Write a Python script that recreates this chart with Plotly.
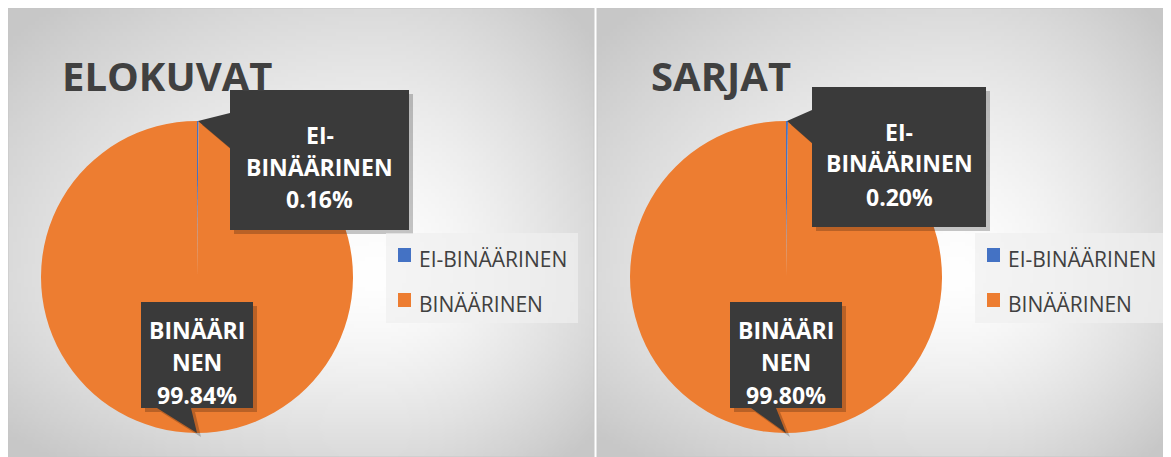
import base64, struct, zlib
import numpy as np
import plotly.graph_objects as go

# ---------------- data ----------------
labels = ["EI-BINÄÄRINEN", "BINÄÄRINEN"]
elokuvat_pct = [0.16, 99.84]
sarjat_pct = [0.20, 99.80]
titles = ["ELOKUVAT", "SARJAT"]
colors = ["#4472C4", "#ED7D31"]

# ---------------- layout constants (window pixels) ----------------
WIN_W, WIN_H = 1171, 457
OFF = 8                      # page body margin
W, H = WIN_W - OFF, WIN_H - OFF
FONT = "Open Sans"
TXT = "#404040"
BOX = "#3a3a3a"


def px(x):
    return (x - OFF) / W


def py(y):
    return 1 - (y - OFF) / H


panels = [
    dict(x0=8, x1=594, cx=197, title_x=60, values=elokuvat_pct, title=titles[0],
         b1=(230, 409, 90, 230), b1_lines=(135, 167, 199), b1_base=(113, 148),
         b2=(141, 253, 302, 408), b2_base=(157, 191),
         leg=(386, 578, 233, 323)),
    dict(x0=597, x1=1171, cx=786, title_x=649, values=sarjat_pct, title=titles[1],
         b1=(812, 986, 87, 227), b1_lines=(132, 163, 197), b1_base=(110, 143),
         b2=(730, 842, 302, 408), b2_base=(751, 776),
         leg=(975, 1167, 233, 323)),
]
PIE_CY, PIE_R = 277, 156
PANEL_TOP = 8


def gradient_uri(w, h, cx, cy):
    u = (np.arange(w) + 0.5) / w
    v = (np.arange(h) + 0.5) / h
    U, V = np.meshgrid(u, v)
    dx = U - cx
    dy = V - cy
    sx = np.where(dx > 0, 1 - cx, cx)
    sy = np.where(dy > 0, 1 - cy, cy)
    d = np.sqrt((dx / sx) ** 2 + (dy / sy) ** 2)
    val = 255 - 56 * (np.clip(d, 0, 1.35) / 1.35) ** 1.45
    img = np.clip(val, 0, 255).astype(np.uint8)
    raw = b"".join(b"\x00" + bytes(np.repeat(row[:, None], 3, axis=1).flatten()) for row in img)

    def chunk(tag, data):
        c = struct.pack(">I", len(data)) + tag + data
        return c + struct.pack(">I", zlib.crc32(tag + data) & 0xFFFFFFFF)

    png = b"\x89PNG\r\n\x1a\n" + chunk(b"IHDR", struct.pack(">IIBBBBB", w, h, 8, 2, 0, 0, 0))
    png += chunk(b"IDAT", zlib.compress(raw, 9)) + chunk(b"IEND", b"")
    return "data:image/png;base64," + base64.b64encode(png).decode()


bg = gradient_uri(160, 120, 0.63, 0.6)

fig = go.Figure()
shapes, annotations, images = [], [], []

for i, p in enumerate(panels):
    vals = p["values"]
    # background
    images.append(dict(source=bg, xref="paper", yref="paper", x=px(p["x0"]), y=py(PANEL_TOP),
                       sizex=(p["x1"] - p["x0"]) / W, sizey=(WIN_H - PANEL_TOP) / H,
                       xanchor="left", yanchor="top", sizing="stretch", layer="below"))
    shapes.append(dict(type="rect", xref="paper", yref="paper", x0=px(p["x0"]), x1=px(p["x1"]),
                       y0=py(WIN_H), y1=py(PANEL_TOP), line=dict(color="#c6c6c6", width=1),
                       fillcolor="rgba(0,0,0,0)", layer="below"))
    # pie
    cx = p["cx"]
    fig.add_trace(go.Pie(
        labels=labels, values=vals, sort=False, direction="clockwise", rotation=0,
        marker=dict(colors=colors, line=dict(width=0)), textinfo="none",
        hoverinfo="label+percent", showlegend=False,
        domain=dict(x=[px(cx - PIE_R), px(cx + PIE_R)], y=[py(PIE_CY + PIE_R), py(PIE_CY - PIE_R)]),
    ))
    # title
    annotations.append(dict(text=p["title"], xref="paper", yref="paper", x=px(p["title_x"]),
                            y=py(76), xanchor="left", yanchor="middle", showarrow=False,
                            font=dict(family=FONT, size=40, color=TXT, weight="bold")))
    # callout 1 (small slice), pointer to pie top
    x0, x1, y0, y1 = p["b1"]
    tip = (cx + 1, PIE_CY - PIE_R)
    bb1, bb2 = p["b1_base"]
    pts = [(x0, y0), (x1, y0), (x1, y1), (x0, y1), (x0, bb2), tip, (x0, bb1)]
    # callout 2 (big slice), pointer to pie bottom
    X0, X1, Y0, Y1 = p["b2"]
    tip2 = (cx, PIE_CY + PIE_R)
    c1, c2 = p["b2_base"]
    pts2 = [(X0, Y0), (X1, Y0), (X1, Y1), (c2, Y1), tip2, (c1, Y1), (X0, Y1)]
    for poly in (pts, pts2):
        for off, fill in ((4, "rgba(0,0,0,0.22)"), (0, BOX)):
            path = "M " + " L ".join(f"{px(x + off)},{py(y + off)}" for x, y in poly) + " Z"
            shapes.append(dict(type="path", xref="paper", yref="paper", path=path,
                               fillcolor=fill, line=dict(width=0)))
    lines1 = ["EI-", "BINÄÄRINEN", f"{vals[0]:.2f}%"]
    for t, yy in zip(lines1, p["b1_lines"]):
        annotations.append(dict(text=t, xref="paper", yref="paper", x=px((x0 + x1) / 2), y=py(yy),
                                showarrow=False, xanchor="center", yanchor="middle",
                                font=dict(family=FONT, size=23, color="white", weight="bold")))
    lines2 = ["BINÄÄRI", "NEN", f"{vals[1]:.2f}%"]
    for t, yy in zip(lines2, (330, 362, 395)):
        annotations.append(dict(text=t, xref="paper", yref="paper", x=px((X0 + X1) / 2), y=py(yy),
                                showarrow=False, xanchor="center", yanchor="middle",
                                font=dict(family=FONT, size=23, color="white", weight="bold")))
    # legend (drawn)
    lx0, lx1, ly0, ly1 = p["leg"]
    shapes.append(dict(type="rect", xref="paper", yref="paper", x0=px(lx0), x1=px(lx1),
                       y0=py(ly1), y1=py(ly0), fillcolor="rgba(240,240,240,0.7)", line=dict(width=0)))
    for k, (lab, col) in enumerate(zip(labels, colors)):
        yc = 255 + 45 * k
        shapes.append(dict(type="rect", xref="paper", yref="paper", x0=px(lx0 + 12), x1=px(lx0 + 25),
                           y0=py(yc + 7), y1=py(yc - 7), fillcolor=col, line=dict(width=0)))
        annotations.append(dict(text=lab, xref="paper", yref="paper", x=px(lx0 + 31), y=py(yc + 4),
                                showarrow=False, xanchor="left", yanchor="middle",
                                font=dict(family=FONT, size=21, color=TXT)))

fig.update_layout(
    width=W, height=H, margin=dict(l=0, r=0, t=0, b=0),
    paper_bgcolor="white", plot_bgcolor="white",
    shapes=shapes, annotations=annotations, images=images,
)
fig.write_html("out.html")
